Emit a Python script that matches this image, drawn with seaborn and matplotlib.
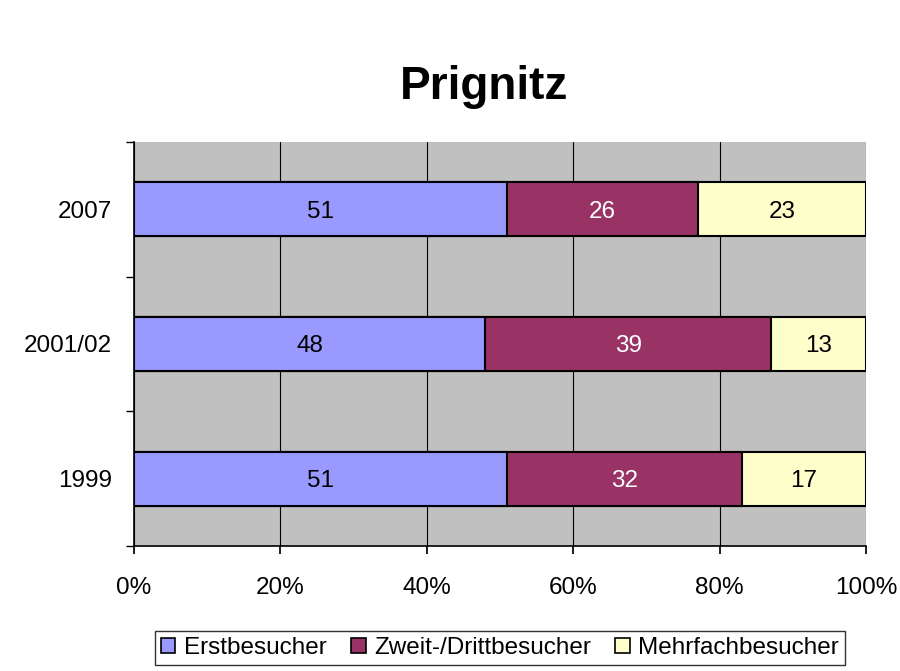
import numpy as np
import pandas as pd
import matplotlib
matplotlib.use('Agg')
import matplotlib.pyplot as plt
import seaborn as sns
from matplotlib.ticker import FixedLocator, FuncFormatter

years = ['2007', '2001/02', '1999']
erst = [51, 48, 51]
zweit = [26, 39, 32]
mehr = [23, 13, 17]

series = ['Erstbesucher', 'Zweit-/Drittbesucher', 'Mehrfachbesucher']
colors = ['#9999FF', '#993366', '#FFFFCC']
label_colors = ['black', 'white', 'black']

sns.set_theme(style='white')
plt.rcParams['font.family'] = ['Liberation Sans', 'DejaVu Sans']
plt.rcParams['text.color'] = 'black'
plt.rcParams['xtick.color'] = 'black'
plt.rcParams['ytick.color'] = 'black'

df = pd.DataFrame({'year': years, 'Erstbesucher': erst,
                   'Zweit-/Drittbesucher': zweit, 'Mehrfachbesucher': mehr})
df['c1'] = df['Erstbesucher']
df['c2'] = df['c1'] + df['Zweit-/Drittbesucher']
df['c3'] = df['c2'] + df['Mehrfachbesucher']

fs = 17.5

fig = plt.figure(figsize=(9, 6.71), dpi=100)
ax = fig.add_axes([134 / 900, 1 - 546 / 671, 732 / 900, 404 / 671])
ax.set_facecolor('#C0C0C0')

# stacked bars: draw cumulative totals from the back to the front
for col, c in zip(['c3', 'c2', 'c1'], colors[::-1]):
    sns.barplot(data=df, x=col, y='year', order=years, color=c, width=0.4,
                edgecolor='black', linewidth=1.5, saturation=1, ax=ax, zorder=3)

for i in range(len(years)):
    left = 0
    for s, lc in zip(series, label_colors):
        v = df[s][i]
        ax.text(left + v / 2, i, str(v), ha='center', va='center_baseline',
                color=lc, fontsize=fs, zorder=5)
        left += v

ax.set_xlim(0, 100)
ax.set_ylim(2.5, -0.5)
ax.xaxis.set_major_locator(FixedLocator([0, 20, 40, 60, 80, 100]))
ax.xaxis.set_major_formatter(FuncFormatter(lambda x, p: f'{int(x)}%'))
ax.grid(axis='x', color='black', linewidth=0.8, zorder=0)
ax.set_axisbelow(True)
ax.set_xlabel('')
ax.set_ylabel('')

ax.yaxis.set_minor_locator(FixedLocator([-0.5, 0.5, 1.5, 2.5]))
ax.tick_params(axis='y', which='major', length=0, pad=16, labelsize=fs)
ax.tick_params(axis='y', which='minor', length=6, direction='out', left=True, color='black')
ax.tick_params(axis='x', which='major', length=6, direction='out', bottom=True,
               pad=16, labelsize=fs, color='black')

for side in ['top', 'right']:
    ax.spines[side].set_visible(False)
for side in ['left', 'bottom']:
    ax.spines[side].set_color('black')
    ax.spines[side].set_linewidth(1.2)

fig.text(0.538, 0.870, 'Prignitz', ha='center', va='center',
         fontsize=33, fontweight='bold', color='black')

handles = [plt.Rectangle((0, 0), 1, 1, facecolor=c, edgecolor='black', linewidth=1.2)
           for c in colors]
leg = fig.legend(handles, series, loc='center', bbox_to_anchor=(500 / 900, 1 - 648 / 671),
                 ncol=3, fontsize=fs, frameon=True, fancybox=False,
                 handlelength=0.6, handleheight=0.6, handletextpad=0.35,
                 columnspacing=1.0, borderpad=0.25)
leg.get_frame().set_edgecolor('black')
leg.get_frame().set_linewidth(1.0)

fig.savefig('out.png', dpi=100)
